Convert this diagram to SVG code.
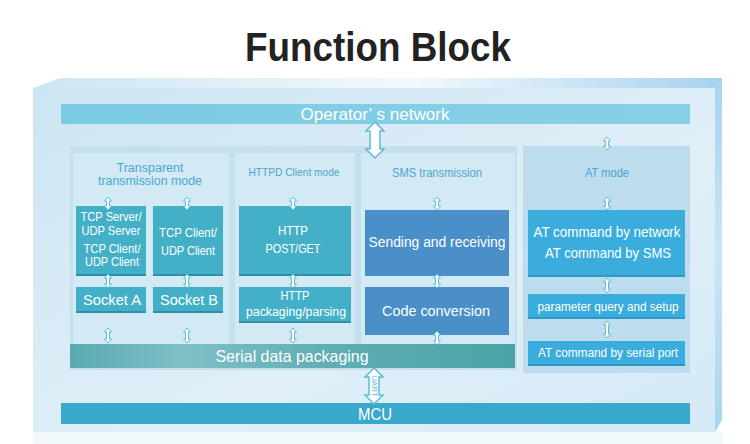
<svg xmlns="http://www.w3.org/2000/svg" width="750" height="444" viewBox="0 0 750 444">
<defs>
<linearGradient id="gFront" x1="0" y1="0" x2="1" y2="1">
<stop offset="0" stop-color="#cde5f2"/><stop offset="0.6" stop-color="#e0eff8"/><stop offset="1" stop-color="#d4eaf6"/>
</linearGradient>
<linearGradient id="gTop" x1="0" y1="0" x2="1" y2="0">
<stop offset="0" stop-color="#cde5f3"/><stop offset="0.55" stop-color="#f3f9fc"/><stop offset="1" stop-color="#a6d2ef"/>
</linearGradient>
<linearGradient id="gRight" x1="0" y1="0" x2="0" y2="1">
<stop offset="0" stop-color="#a8d3f0"/><stop offset="0.5" stop-color="#c8e5f7"/><stop offset="1" stop-color="#a9d4f0"/>
</linearGradient>
<linearGradient id="gSerial" x1="0" y1="0" x2="1" y2="0">
<stop offset="0" stop-color="#5aa9b1"/><stop offset="0.25" stop-color="#7fc0c7"/><stop offset="0.6" stop-color="#5eadb3"/><stop offset="1" stop-color="#4ba3a8"/>
</linearGradient>
<linearGradient id="gOp" x1="0" y1="0" x2="1" y2="0">
<stop offset="0" stop-color="#7ccbe4"/><stop offset="1" stop-color="#86d0e6"/>
</linearGradient>
</defs>
<style>
.t{font-family:"Liberation Sans",Arial,sans-serif;fill:#fff;text-anchor:middle}
.lbl{font-family:"Liberation Sans",Arial,sans-serif;fill:#4aa7cf;text-anchor:middle}
.teal{fill:#44b0c7}
.steel{fill:#4a8fc7}
.cyan{fill:#3aaddc}
.sh{fill:#2b8fae}
.arr{fill:#ffffff;stroke:#5bbdd3;stroke-width:1}
.big{fill:#ffffff;stroke:#5bbdd3;stroke-width:1.5}
</style>
<rect width="750" height="444" fill="#ffffff"/>
<text x="378" y="61" font-family="Liberation Sans,Arial,sans-serif" font-weight="bold" font-size="41" fill="#222" text-anchor="middle" textLength="266" lengthAdjust="spacingAndGlyphs">Function Block</text>

<g id="frame">
<rect x="33" y="432" width="690" height="12" fill="#f1f8fc"/>
<polygon points="33,88 60,78 722,78 715,88" fill="url(#gTop)"/>
<polygon points="715,88 722,78 722,420 715,432" fill="url(#gRight)"/>
<rect x="33" y="88" width="682" height="344" fill="url(#gFront)"/>
<rect x="70" y="146" width="447" height="224" fill="#c4e0ed"/>
<rect x="73" y="153" width="156" height="191" fill="#d3e9f3"/>
<rect x="235" y="153" width="120" height="191" fill="#d3e9f3"/>
<rect x="361" y="153" width="154" height="191" fill="#d3e9f3"/>
<rect x="523" y="146" width="167" height="227" fill="#bddced"/>
</g>

<g id="operator">
<rect x="61" y="104" width="629" height="20" fill="url(#gOp)"/>
<text class="t" x="375" y="120" font-size="16" textLength="149" lengthAdjust="spacingAndGlyphs">Operator’ s network</text>
</g>

<g id="labels">
<text class="lbl" x="150" y="172" font-size="12.5" textLength="67" lengthAdjust="spacingAndGlyphs">Transparent</text>
<text class="lbl" x="150" y="185" font-size="12.5" textLength="104" lengthAdjust="spacingAndGlyphs">transmission mode</text>
<text class="lbl" x="294" y="176" font-size="11" textLength="91" lengthAdjust="spacingAndGlyphs">HTTPD Client mode</text>
<text class="lbl" x="437" y="177" font-size="12" textLength="90" lengthAdjust="spacingAndGlyphs">SMS transmission</text>
<text class="lbl" x="607" y="177" font-size="12" textLength="44" lengthAdjust="spacingAndGlyphs">AT mode</text>
</g>

<g id="tcpserver">
<rect class="sh" x="76" y="207" width="70" height="69"/>
<rect class="teal" x="76" y="206" width="70" height="68"/>
<text class="t" x="111" y="221" font-size="12.5" textLength="61" lengthAdjust="spacingAndGlyphs">TCP Server/</text>
<text class="t" x="111" y="235" font-size="12.5" textLength="59" lengthAdjust="spacingAndGlyphs">UDP Server</text>
<text class="t" x="112" y="253" font-size="12.5" textLength="57" lengthAdjust="spacingAndGlyphs">TCP Client/</text>
<text class="t" x="112" y="266" font-size="12.5" textLength="54" lengthAdjust="spacingAndGlyphs">UDP Client</text>
</g>
<g id="tcpclient">
<rect class="sh" x="153" y="207" width="70" height="69"/>
<rect class="teal" x="153" y="206" width="70" height="68"/>
<text class="t" x="188" y="237" font-size="12.5" textLength="58" lengthAdjust="spacingAndGlyphs">TCP Client/</text>
<text class="t" x="188" y="255" font-size="12.5" textLength="54" lengthAdjust="spacingAndGlyphs">UDP Client</text>
</g>
<g id="socketa">
<rect class="sh" x="76" y="288" width="70" height="25"/>
<rect class="teal" x="76" y="287" width="70" height="24"/>
<text class="t" x="112" y="305" font-size="15.5" textLength="58" lengthAdjust="spacingAndGlyphs">Socket A</text>
</g>
<g id="socketb">
<rect class="sh" x="153" y="288" width="70" height="25"/>
<rect class="teal" x="153" y="287" width="70" height="24"/>
<text class="t" x="189" y="305" font-size="15.5" textLength="58" lengthAdjust="spacingAndGlyphs">Socket B</text>
</g>
<g id="httppost">
<rect class="sh" x="239" y="207" width="112" height="69"/>
<rect class="teal" x="239" y="206" width="112" height="68"/>
<text class="t" x="293" y="235" font-size="13" textLength="30" lengthAdjust="spacingAndGlyphs">HTTP</text>
<text class="t" x="293" y="253" font-size="13" textLength="55" lengthAdjust="spacingAndGlyphs">POST/GET</text>
</g>
<g id="httppack">
<rect class="sh" x="239" y="288" width="112" height="35"/>
<rect class="teal" x="239" y="287" width="112" height="34"/>
<text class="t" x="295" y="300" font-size="12.5" textLength="29" lengthAdjust="spacingAndGlyphs">HTTP</text>
<text class="t" x="296" y="316" font-size="12.5" textLength="100" lengthAdjust="spacingAndGlyphs">packaging/parsing</text>
</g>
<g id="sending">
<rect class="steel" x="365" y="210" width="144" height="66"/>
<text class="t" x="437" y="247" font-size="14" textLength="137" lengthAdjust="spacingAndGlyphs">Sending and receiving</text>
</g>
<g id="code">
<rect class="steel" x="365" y="287" width="144" height="48"/>
<text class="t" x="436" y="316" font-size="15" textLength="108" lengthAdjust="spacingAndGlyphs">Code conversion</text>
</g>
<g id="atcmd">
<rect fill="#2f96c6" x="528" y="211" width="157" height="66"/>
<rect class="cyan" x="528" y="210" width="157" height="65"/>
<text class="t" x="607" y="237" font-size="14" textLength="147" lengthAdjust="spacingAndGlyphs">AT command by network</text>
<text class="t" x="608" y="258" font-size="14" textLength="126" lengthAdjust="spacingAndGlyphs">AT command by SMS</text>
</g>
<g id="param">
<rect fill="#2f96c6" x="528" y="295" width="157" height="24"/>
<rect class="cyan" x="528" y="294" width="157" height="23"/>
<text class="t" x="608" y="311" font-size="12" textLength="141" lengthAdjust="spacingAndGlyphs">parameter query and setup</text>
</g>
<g id="serialport">
<rect fill="#2f96c6" x="528" y="342" width="157" height="24"/>
<rect class="cyan" x="528" y="341" width="157" height="23"/>
<text class="t" x="608" y="357" font-size="12" textLength="140" lengthAdjust="spacingAndGlyphs">AT command by serial port</text>
</g>
<g id="serial">
<rect x="70" y="344" width="445" height="24" fill="url(#gSerial)"/>
<text class="t" x="292" y="362" font-size="16.5" textLength="153" lengthAdjust="spacingAndGlyphs">Serial data packaging</text>
</g>
<g id="mcu">
<rect x="61" y="403" width="629" height="21" fill="#3aa8cc"/>
<text class="t" x="375" y="420" font-size="17" textLength="34" lengthAdjust="spacingAndGlyphs">MCU</text>
</g>

<g id="connectors">
<path class="big" d="M375,122 L384,131 L380,131 L380,149 L384,149 L375,158 L366,149 L370,149 L370,131 L366,131 Z"/>
<path class="big" d="M374,368 L383,377 L379,377 L379,395 L383,395 L374,404 L365,395 L369,395 L369,377 L365,377 Z"/>
<text x="374" y="386" transform="rotate(90 374 386)" font-family="Liberation Sans,Arial,sans-serif" font-size="8" fill="#5bbdd3" text-anchor="middle" dominant-baseline="central">UART</text>
<path class="arr" d="M108,197 L111.5,201 L109.5,201 L109.5,206 L111.5,206 L108,210 L104.5,206 L106.5,206 L106.5,201 L104.5,201 Z"/>
<path class="arr" d="M187,197 L190.5,201 L188.5,201 L188.5,206 L190.5,206 L187,210 L183.5,206 L185.5,206 L185.5,201 L183.5,201 Z"/>
<path class="arr" d="M293,197 L296.5,201 L294.5,201 L294.5,206 L296.5,206 L293,210 L289.5,206 L291.5,206 L291.5,201 L289.5,201 Z"/>
<path class="arr" d="M437,197 L440.5,201 L438.5,201 L438.5,206 L440.5,206 L437,210 L433.5,206 L435.5,206 L435.5,201 L433.5,201 Z"/>
<path class="arr" d="M607,137 L610.5,141 L608.5,141 L608.5,146 L610.5,146 L607,150 L603.5,146 L605.5,146 L605.5,141 L603.5,141 Z"/>
<path class="arr" d="M607,197 L610.5,201 L608.5,201 L608.5,206 L610.5,206 L607,210 L603.5,206 L605.5,206 L605.5,201 L603.5,201 Z"/>
<path class="arr" d="M108,274 L111.5,278 L109.5,278 L109.5,284 L111.5,284 L108,288 L104.5,284 L106.5,284 L106.5,278 L104.5,278 Z"/>
<path class="arr" d="M187,274 L190.5,278 L188.5,278 L188.5,284 L190.5,284 L187,288 L183.5,284 L185.5,284 L185.5,278 L183.5,278 Z"/>
<path class="arr" d="M293,274 L296.5,278 L294.5,278 L294.5,284 L296.5,284 L293,288 L289.5,284 L291.5,284 L291.5,278 L289.5,278 Z"/>
<path class="arr" d="M437,274 L440.5,278 L438.5,278 L438.5,284 L440.5,284 L437,288 L433.5,284 L435.5,284 L435.5,278 L433.5,278 Z"/>
<path class="arr" d="M108,328 L111.5,332 L109.5,332 L109.5,339 L111.5,339 L108,343 L104.5,339 L106.5,339 L106.5,332 L104.5,332 Z"/>
<path class="arr" d="M187,328 L190.5,332 L188.5,332 L188.5,339 L190.5,339 L187,343 L183.5,339 L185.5,339 L185.5,332 L183.5,332 Z"/>
<path class="arr" d="M293,328 L296.5,332 L294.5,332 L294.5,339 L296.5,339 L293,343 L289.5,339 L291.5,339 L291.5,332 L289.5,332 Z"/>
<path class="arr" d="M437,331 L440.5,335 L438.5,335 L438.5,341 L440.5,341 L437,345 L433.5,341 L435.5,341 L435.5,335 L433.5,335 Z"/>
<path class="arr" d="M607,278 L610.5,282 L608.5,282 L608.5,289 L610.5,289 L607,293 L603.5,289 L605.5,289 L605.5,282 L603.5,282 Z"/>
<path class="arr" d="M607,321 L610.5,325 L608.5,325 L608.5,334 L610.5,334 L607,338 L603.5,334 L605.5,334 L605.5,325 L603.5,325 Z"/>
</g>
</svg>
